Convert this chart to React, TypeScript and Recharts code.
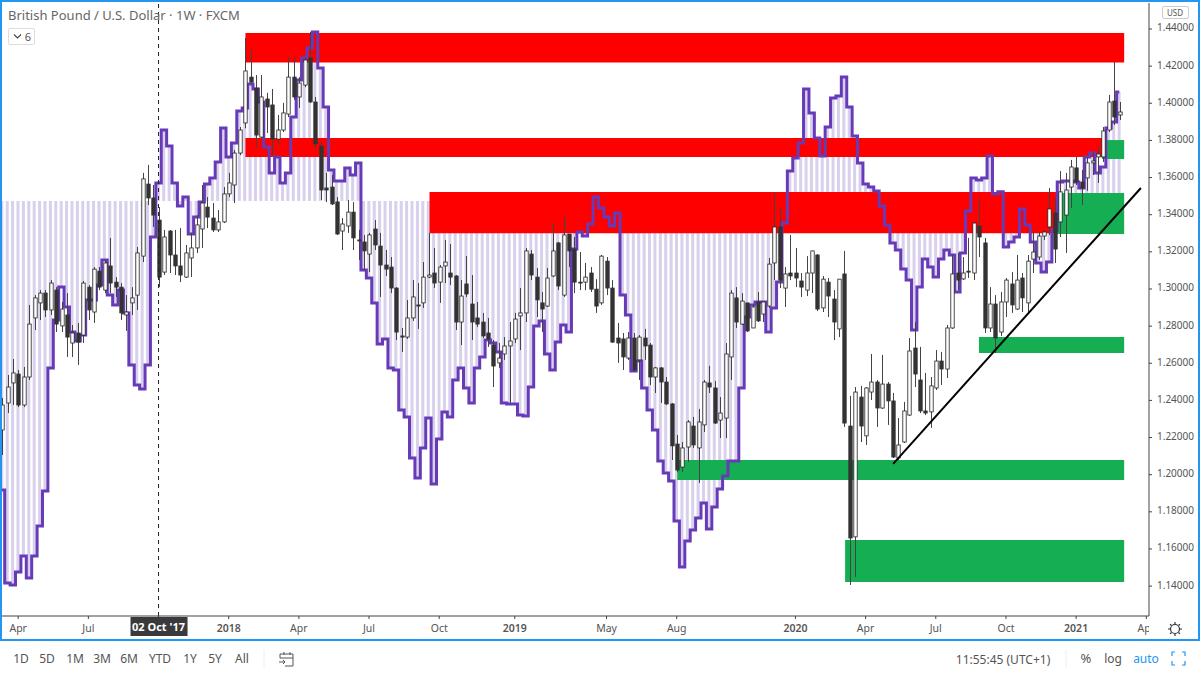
import { Bar, ComposedChart, Line, ReferenceArea, ReferenceLine, XAxis, YAxis } from 'recharts';

const FONT = '"Noto Sans", sans-serif';

// week number, 0 = 02 Oct 2017
const firstWeek = -29;

const opens = [
  1.2241, 1.2386, 1.2494, 1.2542, 1.2375, 1.2526, 1.2844, 1.2925, 1.2978, 1.2887,
  1.2994, 1.2801, 1.2860, 1.2709, 1.2763, 1.2752, 1.3010, 1.2876, 1.3096, 1.2994,
  1.3124, 1.3037, 1.3010, 1.2860, 1.2925, 1.2967, 1.3177, 1.3565, 1.3490,
  1.3371, 1.3091, 1.3312, 1.3183, 1.3124, 1.3064, 1.3167, 1.3221, 1.3323, 1.3441,
  1.3382, 1.3318, 1.3361, 1.3512, 1.3560, 1.3732, 1.3894, 1.4141, 1.4082, 1.3818,
  1.4023, 1.3991, 1.3807, 1.3856, 1.3942, 1.4141, 1.4034, 1.4098, 1.4244, 1.4007,
  1.3770, 1.3544, 1.3549, 1.3469, 1.3312, 1.3339, 1.3414, 1.3264, 1.3253, 1.3188,
  1.3323, 1.3231, 1.3129, 1.3118, 1.3005, 1.2747, 1.2741, 1.2844, 1.2914, 1.2925,
  1.3064, 1.3086, 1.3037, 1.3124, 1.3086, 1.3070, 1.2822, 1.3027, 1.2919, 1.2844,
  1.2822, 1.2763, 1.2698, 1.2602, 1.2650, 1.2693, 1.2731, 1.2855, 1.2871, 1.3188,
  1.3064, 1.2925, 1.2908, 1.3070, 1.3248, 1.2967, 1.3296, 1.3215, 1.3037, 1.3037,
  1.3086, 1.2999, 1.2925, 1.3150, 1.3005, 1.2736, 1.2731, 1.2628, 1.2736, 1.2618,
  1.2736, 1.2698, 1.2526, 1.2575, 1.2499, 1.2381, 1.2165, 1.2041, 1.2149, 1.2262,
  1.2144, 1.2268, 1.2494, 1.2467, 1.2294, 1.2305, 1.2634, 1.2952, 1.2811, 1.2925,
  1.2790, 1.2930, 1.2865, 1.2908, 1.3140, 1.3334, 1.3005, 1.3086, 1.3086, 1.3043,
  1.2994, 1.3086, 1.3183, 1.2898, 1.3037, 1.2946, 1.2785, 1.3081, 1.2262, 1.1665,
  1.2418, 1.2209, 1.2445, 1.2499, 1.2359, 1.2488, 1.2397, 1.2090, 1.2176, 1.2321,
  1.2682, 1.2510, 1.2343, 1.2338, 1.2467, 1.2612, 1.2569, 1.2790, 1.3086, 1.3054,
  1.3096, 1.3086, 1.3339, 1.3248, 1.2790, 1.2919, 1.2768, 1.2930, 1.3027, 1.2892,
  1.3059, 1.2925, 1.3161, 1.3172, 1.3285, 1.3334, 1.3409, 1.3361, 1.3398, 1.3549,
  1.3652, 1.3576, 1.3598, 1.3679, 1.3711, 1.3711, 1.3856, 1.4012, 1.3937,
];
const highs = [
  1.2413, 1.2537, 1.2623, 1.2564, 1.2580, 1.2914, 1.2967, 1.2994, 1.2994, 1.3048,
  1.3010, 1.2930, 1.2978, 1.2806, 1.2817, 1.3043, 1.3021, 1.3118, 1.3118, 1.3156,
  1.3275, 1.3064, 1.3032, 1.2967, 1.3010, 1.3226, 1.3625, 1.3668, 1.3560,
  1.3441, 1.3318, 1.3318, 1.3318, 1.3328, 1.3237, 1.3302, 1.3398, 1.3560, 1.3495,
  1.3463, 1.3425, 1.3549, 1.3625, 1.3748, 1.3872, 1.4352, 1.4287, 1.4152, 1.4152,
  1.4056, 1.4077, 1.3937, 1.4002, 1.4249, 1.4249, 1.4141, 1.4244, 1.4384, 1.4034,
  1.3791, 1.3625, 1.3614, 1.3495, 1.3382, 1.3479, 1.3468, 1.3318, 1.3291, 1.3302,
  1.3371, 1.3302, 1.3210, 1.3172, 1.3010, 1.2790, 1.2941, 1.3048, 1.3032, 1.3145,
  1.3302, 1.3221, 1.3129, 1.3264, 1.3242, 1.3075, 1.3048, 1.3177, 1.3075, 1.2930,
  1.2871, 1.2844, 1.2725, 1.2709, 1.2741, 1.2822, 1.2871, 1.3005, 1.3221, 1.3210,
  1.3113, 1.2984, 1.3113, 1.3355, 1.3253, 1.3387, 1.3296, 1.3280, 1.3199, 1.3140,
  1.3118, 1.3053, 1.3183, 1.3172, 1.3048, 1.2817, 1.2763, 1.2768, 1.2763, 1.2752,
  1.2785, 1.2709, 1.2580, 1.2580, 1.2526, 1.2386, 1.2214, 1.2176, 1.2294, 1.2311,
  1.2354, 1.2510, 1.2586, 1.2505, 1.2418, 1.2709, 1.2994, 1.3010, 1.2978, 1.2925,
  1.2914, 1.2984, 1.2930, 1.3167, 1.3517, 1.3436, 1.3118, 1.3291, 1.3221, 1.3086,
  1.3177, 1.3205, 1.3188, 1.3070, 1.3059, 1.2994, 1.3053, 1.3205, 1.2424, 1.2472,
  1.2478, 1.2472, 1.2650, 1.2510, 1.2645, 1.2499, 1.2440, 1.2305, 1.2392, 1.2736,
  1.2822, 1.2688, 1.2548, 1.2526, 1.2671, 1.2661, 1.2806, 1.3183, 1.3194, 1.3172,
  1.3275, 1.3361, 1.3490, 1.3275, 1.3010, 1.2967, 1.2984, 1.3059, 1.3091, 1.3183,
  1.3086, 1.3183, 1.3307, 1.3307, 1.3318, 1.3544, 1.3490, 1.3635, 1.3625, 1.3695,
  1.3711, 1.3641, 1.3711, 1.3738, 1.3764, 1.3872, 1.4045, 1.4223, 1.4007,
];
const lows = [
  1.2106, 1.2332, 1.2375, 1.2364, 1.2364, 1.2510, 1.2779, 1.2833, 1.2849, 1.2860,
  1.2768, 1.2768, 1.2634, 1.2634, 1.2591, 1.2709, 1.2833, 1.2817, 1.2994, 1.2978,
  1.2978, 1.2957, 1.2833, 1.2774, 1.2860, 1.2887, 1.3145, 1.3452, 1.3334,
  1.3010, 1.3075, 1.3086, 1.3075, 1.3037, 1.3059, 1.3064, 1.3194, 1.3221, 1.3328,
  1.3307, 1.3307, 1.3355, 1.3495, 1.3463, 1.3721, 1.3866, 1.4109, 1.3764, 1.3813,
  1.3840, 1.3721, 1.3775, 1.3845, 1.3926, 1.4018, 1.3975, 1.4087, 1.4002, 1.3759,
  1.3479, 1.3468, 1.3452, 1.3291, 1.3210, 1.3302, 1.3210, 1.3156, 1.3102, 1.3091,
  1.3210, 1.2957, 1.3070, 1.2978, 1.2725, 1.2661, 1.2731, 1.2828, 1.2785, 1.2898,
  1.3059, 1.3005, 1.2925, 1.3032, 1.3021, 1.2779, 1.2698, 1.2957, 1.2725, 1.2795,
  1.2736, 1.2688, 1.2472, 1.2575, 1.2618, 1.2386, 1.2709, 1.2671, 1.2822, 1.3048,
  1.2849, 1.2768, 1.2903, 1.3064, 1.2994, 1.2957, 1.3118, 1.2978, 1.2994, 1.2994,
  1.2984, 1.2871, 1.2914, 1.2967, 1.2709, 1.2602, 1.2564, 1.2618, 1.2553, 1.2510,
  1.2618, 1.2483, 1.2440, 1.2386, 1.2375, 1.2079, 1.2014, 1.2014, 1.2068, 1.2144,
  1.1955, 1.2230, 1.2440, 1.2273, 1.2197, 1.2197, 1.2510, 1.2790, 1.2806, 1.2768,
  1.2790, 1.2822, 1.2822, 1.2898, 1.3048, 1.3005, 1.2903, 1.3048, 1.3010, 1.2957,
  1.2962, 1.2978, 1.2881, 1.2876, 1.2849, 1.2725, 1.2741, 1.2257, 1.1406, 1.1449,
  1.2176, 1.2160, 1.2402, 1.2257, 1.2354, 1.2268, 1.2090, 1.2079, 1.2171, 1.2316,
  1.2472, 1.2332, 1.2321, 1.2252, 1.2456, 1.2483, 1.2521, 1.2785, 1.2994, 1.3048,
  1.3059, 1.3048, 1.3172, 1.2763, 1.2768, 1.2655, 1.2747, 1.2849, 1.2871, 1.2887,
  1.2876, 1.2871, 1.3086, 1.3156, 1.3264, 1.3291, 1.3140, 1.3280, 1.3194, 1.3436,
  1.3560, 1.3452, 1.3528, 1.3614, 1.3571, 1.3684, 1.3845, 1.3883, 1.3910,
];
const closes = [
  1.2375, 1.2472, 1.2548, 1.2375, 1.2526, 1.2811, 1.2952, 1.2978, 1.2887, 1.3032,
  1.2811, 1.2892, 1.2741, 1.2763, 1.2714, 1.3032, 1.2887, 1.3107, 1.3010, 1.3140,
  1.3032, 1.3010, 1.2871, 1.2876, 1.2952, 1.3194, 1.3593, 1.3490, 1.3398,
  1.3064, 1.3280, 1.3183, 1.3124, 1.3075, 1.3194, 1.3221, 1.3345, 1.3463, 1.3387,
  1.3318, 1.3361, 1.3512, 1.3571, 1.3732, 1.3856, 1.4174, 1.4114, 1.3829, 1.4034,
  1.3980, 1.3807, 1.3856, 1.3948, 1.4141, 1.4034, 1.4109, 1.4233, 1.4007, 1.3781,
  1.3533, 1.3533, 1.3458, 1.3296, 1.3350, 1.3414, 1.3275, 1.3259, 1.3205, 1.3291,
  1.3237, 1.3129, 1.3107, 1.3005, 1.2768, 1.2741, 1.2844, 1.2957, 1.2908, 1.3064,
  1.3075, 1.3032, 1.3118, 1.3145, 1.3064, 1.2822, 1.2962, 1.2973, 1.2822, 1.2811,
  1.2747, 1.2731, 1.2585, 1.2628, 1.2693, 1.2720, 1.2838, 1.2871, 1.3205, 1.3075,
  1.2941, 1.2892, 1.3059, 1.3205, 1.3016, 1.3291, 1.3205, 1.3037, 1.3032, 1.3064,
  1.2999, 1.2908, 1.3177, 1.3005, 1.2714, 1.2709, 1.2634, 1.2736, 1.2564, 1.2741,
  1.2693, 1.2526, 1.2575, 1.2499, 1.2381, 1.2155, 1.2025, 1.2144, 1.2284, 1.2160,
  1.2284, 1.2499, 1.2472, 1.2278, 1.2332, 1.2650, 1.2978, 1.2822, 1.2935, 1.2774,
  1.2903, 1.2828, 1.2930, 1.3134, 1.3334, 1.3048, 1.3081, 1.3070, 1.3059, 1.3010,
  1.3086, 1.3205, 1.2892, 1.3053, 1.2962, 1.2822, 1.3053, 1.2278, 1.1659, 1.2445,
  1.2262, 1.2467, 1.2499, 1.2359, 1.2488, 1.2397, 1.2095, 1.2160, 1.2343, 1.2666,
  1.2542, 1.2343, 1.2332, 1.2478, 1.2612, 1.2569, 1.2790, 1.3081, 1.3048, 1.3086,
  1.3091, 1.3355, 1.3280, 1.2790, 1.2919, 1.2736, 1.2930, 1.3048, 1.2914, 1.3048,
  1.2952, 1.3150, 1.3199, 1.3285, 1.3307, 1.3431, 1.3215, 1.3523, 1.3533, 1.3657,
  1.3576, 1.3544, 1.3679, 1.3689, 1.3727, 1.3851, 1.4007, 1.3926, 1.3953,
];
const indicator = [
  1.1917, 1.1417, 1.1406, 1.1476, 1.1562, 1.1443, 1.1562, 1.1724, 1.1912, 1.2574,
  1.2833, 1.3010, 1.2903, 1.2768, 1.2720, 1.2752, 1.2941, 1.2941, 1.3021, 1.3156,
  1.2967, 1.2914, 1.2994, 1.2871, 1.2591, 1.2483, 1.2461, 1.2591, 1.3280,
  1.3571, 1.3856, 1.3770, 1.3571, 1.3447, 1.3495, 1.3296, 1.3387, 1.3468, 1.3565,
  1.3598, 1.3684, 1.3867, 1.3711, 1.3786, 1.3958, 1.3975, 1.4104, 1.4077, 1.4007,
  1.3764, 1.3625, 1.3711, 1.3571, 1.3625, 1.3926, 1.4125, 1.4244, 1.4298, 1.4384,
  1.4190, 1.3980, 1.3641, 1.3582, 1.3582, 1.3652, 1.3614, 1.3679, 1.3102, 1.3059,
  1.2925, 1.2704, 1.2731, 1.2575, 1.2564, 1.2348, 1.2311, 1.2090, 1.1982, 1.2144,
  1.2305, 1.1950, 1.2192, 1.2337, 1.2311, 1.2510, 1.2575, 1.2467, 1.2386, 1.2575,
  1.2634, 1.2725, 1.2709, 1.2661, 1.2386, 1.2381, 1.2381, 1.2321, 1.2316, 1.2472,
  1.2801, 1.2828, 1.2650, 1.2564, 1.2714, 1.2806, 1.2768, 1.3215, 1.3307, 1.3285,
  1.3350, 1.3495, 1.3436, 1.3387, 1.3339, 1.3409, 1.2967, 1.2860, 1.2558, 1.2612,
  1.2467, 1.2348, 1.2241, 1.2074, 1.2009, 1.1966, 1.1751, 1.1503, 1.1643, 1.1702,
  1.1767, 1.1848, 1.1708, 1.1826, 1.1923, 1.1993, 1.2074, 1.2074, 1.2467, 1.2849,
  1.2914, 1.2930, 1.2930, 1.2768, 1.2898, 1.3037, 1.3355, 1.3635, 1.3705, 1.3786,
  1.4077, 1.3948, 1.3813, 1.3716, 1.3872, 1.4029, 1.4039, 1.4141, 1.3980, 1.3824,
  1.3679, 1.3565, 1.3549, 1.3528, 1.3447, 1.3345, 1.3248, 1.3210, 1.3107, 1.3048,
  1.2779, 1.3010, 1.3161, 1.3118, 1.3064, 1.3161, 1.3210, 1.3183, 1.2984, 1.3194,
  1.3420, 1.3598, 1.3587, 1.3598, 1.3716, 1.3512, 1.3523, 1.3226, 1.3253, 1.3280,
  1.3431, 1.3345, 1.3253, 1.3140, 1.3091, 1.3145, 1.3318, 1.3576, 1.3582, 1.3582,
  1.3576, 1.3544, 1.3711, 1.3732, 1.3625, 1.3657, 1.3867, 1.3899, 1.4061,
];
const indicatorBase = 1.3474;

const priceTicks = [1.14, 1.16, 1.18, 1.2, 1.22, 1.24, 1.26, 1.28, 1.3, 1.32, 1.34, 1.36, 1.38, 1.4, 1.42, 1.44];
const timeTicks = [-26, -13, 0, 13, 26, 39, 52, 66, 83, 96, 118, 131, 144, 157, 170, 183];
const timeLabels = ['Apr', 'Jul', "02 Oct '17", '2018', 'Apr', 'Jul', 'Oct', '2019', 'May', 'Aug', '2020', 'Apr', 'Jul', 'Oct', '2021', 'Apr'];
const rangeButtons = [['1D', 21], ['5D', 47], ['1M', 75], ['3M', 102], ['6M', 129], ['YTD', 160], ['1Y', 190], ['5Y', 215], ['All', 242]];

// [from week, to week, top price, bottom price]
const redZones = [
  [16.1, 178.9, 1.4378, 1.422],
  [16.1, 174.8, 1.3813, 1.3711],
  [50.2, 166.3, 1.3522, 1.33],
];
const greenZones = [
  [174.8, 178.9, 1.3802, 1.37],
  [166.3, 178.9, 1.3517, 1.3296],
  [152, 178.9, 1.2741, 1.2655],
  [96.1, 178.9, 1.2079, 1.1971],
  [127.2, 178.9, 1.1648, 1.1422],
];
const trendFrom = { x: 136.1, y: 1.2058 };
const trendTo = { x: 182, y: 1.3544 };

const rows = opens.map((open, n) => ({
  week: firstWeek + n,
  open,
  high: highs[n],
  low: lows[n],
  close: closes[n],
  wick: [lows[n], highs[n]],
  indicator: indicator[n],
  hatch: [Math.min(indicatorBase, indicator[n]), Math.max(indicatorBase, indicator[n])],
}));

const Candle = (props: any) => {
  const { x, y, width, height, payload } = props;
  const perPrice = height / (payload.high - payload.low || 1);
  const yOpen = y + (payload.high - payload.open) * perPrice;
  const yClose = y + (payload.high - payload.close) * perPrice;
  const up = payload.close >= payload.open;
  const mid = Math.round(x + width / 2) + 0.5;
  return (
    <g>
      <line x1={mid} x2={mid} y1={y} y2={y + height} stroke="#444" strokeWidth={1} />
      <rect
        x={mid - 1.7}
        y={Math.min(yOpen, yClose)}
        width={3.4}
        height={Math.max(Math.abs(yOpen - yClose), 1)}
        fill={up ? '#fff' : '#333'}
        stroke={up ? '#222' : '#333'}
        strokeWidth={0.8}
      />
    </g>
  );
};

const PriceTick = (props: any) => {
  const { x, y, payload } = props;
  return (
    <text x={x} y={y + 2.5} fontSize={10} fill="#555" fontFamily={FONT}>
      {payload.value.toFixed(5)}
    </text>
  );
};

const TimeTick = (props: any) => {
  const { x, payload } = props;
  const label = timeLabels[timeTicks.indexOf(payload.value)];
  if (payload.value === 0) {
    return (
      <g>
        <rect x={x - 28} y={617} width={57} height={19} fill="#3a3a3c" />
        <text x={x} y={631} textAnchor="middle" fontSize={11} fontWeight={700} fill="#fff" fontFamily={FONT}>
          {label}
        </text>
      </g>
    );
  }
  const isYear = /^\d+$/.test(label);
  const text = (
    <text x={x} y={632} textAnchor="middle" fontSize={10.5} fontWeight={isYear ? 600 : 400} fill="#555" fontFamily={FONT}>
      {label}
    </text>
  );
  if (payload.value === 183) {
    return (
      <g>
        <clipPath id="lastTick">
          <rect x={x - 12} y={617} width={1149 - x + 12} height={20} />
        </clipPath>
        <g clipPath="url(#lastTick)">{text}</g>
      </g>
    );
  }
  return text;
};

const Label = ({ x, y, children, color = '#555', size = 12, anchor = 'center' }: any) => (
  <div
    style={{
      position: 'absolute',
      left: x,
      top: y,
      transform: anchor === 'center' ? 'translate(-50%, -50%)' : 'translateY(-50%)',
      fontSize: size,
      color,
      whiteSpace: 'nowrap',
      fontFamily: FONT,
    }}
  >
    {children}
  </div>
);

export default function App() {
  return (
    <div style={{ position: 'absolute', left: 0, top: 0, width: 1200, height: 675, background: '#fff', overflow: 'hidden' }}>
      <ComposedChart
        width={1200}
        height={640}
        data={rows}
        margin={{ top: 3, right: 2, bottom: 0, left: 2 }}
        style={{ position: 'absolute', left: 0, top: 0 }}
      >
        <XAxis
          dataKey="week"
          type="number"
          domain={[-29, 183.5]}
          ticks={timeTicks}
          interval={0}
          height={24}
          tick={<TimeTick />}
          tickSize={3}
          stroke="#444"
        />
        <XAxis dataKey="week" xAxisId="hatch" type="number" domain={[-29, 183.5]} hide />
        <YAxis
          orientation="right"
          width={49}
          domain={[1.1239, 1.454]}
          ticks={priceTicks}
          interval={0}
          tick={<PriceTick />}
          tickSize={3}
          tickMargin={5}
          stroke="#444"
        />
        <Bar dataKey="hatch" xAxisId="hatch" barSize={3} fill="#d8d0ec" isAnimationActive={false} zIndex={50} />
        {redZones.map((z, n) => (
          <ReferenceArea key={`red-${n}`} x1={z[0]} x2={z[1]} y1={z[3]} y2={z[2]} fill="#ff0000" fillOpacity={1} stroke="none" />
        ))}
        {greenZones.map((z, n) => (
          <ReferenceArea key={`green-${n}`} x1={z[0]} x2={z[1]} y1={z[3]} y2={z[2]} fill="#15ae52" fillOpacity={1} stroke="none" />
        ))}
        <Line dataKey="indicator" type="step" stroke="#673ab7" strokeWidth={3} dot={false} isAnimationActive={false} zIndex={250} />
        <Bar dataKey="wick" barSize={4} shape={<Candle />} isAnimationActive={false} />
        <ReferenceLine
          segment={[trendFrom, trendTo]}
          stroke="#000"
          strokeWidth={2}
          ifOverflow="visible"
        />
        <ReferenceLine x={0} stroke="#222" strokeDasharray="4 4" />
      </ComposedChart>

      {/* frame and toolbar */}
      <div style={{ position: 'absolute', left: 0, top: 0, width: 1200, height: 641, boxSizing: 'border-box', border: '2px solid #2196f3', pointerEvents: 'none' }} />
      <Label x={8} y={15} size={13} color="#666" anchor="left">British Pound / U.S. Dollar · 1W · FXCM</Label>
      <div style={{ position: 'absolute', left: 8, top: 28, width: 27, height: 17, boxSizing: 'border-box', border: '1px solid #ddd', borderRadius: 2 }} />
      <Label x={28} y={36} size={11} color="#555">6</Label>
      <div style={{ position: 'absolute', left: 1162, top: 6, width: 27, height: 13, boxSizing: 'border-box', border: '1px solid #ccc', borderRadius: 2 }} />
      <Label x={1175} y={12} size={8} color="#555">USD</Label>
      <svg width={1200} height={675} style={{ position: 'absolute', left: 0, top: 0, pointerEvents: 'none' }}>
        <path d="M14 34.5 l3.5 3.5 l3.5 -3.5" fill="none" stroke="#444" strokeWidth={1.1} />
        <circle cx={1175} cy={629} r={4.5} fill="none" stroke="#333" strokeWidth={1.2} />
        {[0, 45, 90, 135, 180, 225, 270, 315].map((a) => (
          <line
            key={a}
            x1={1175 + 5 * Math.cos((a * Math.PI) / 180)}
            y1={629 + 5 * Math.sin((a * Math.PI) / 180)}
            x2={1175 + 7 * Math.cos((a * Math.PI) / 180)}
            y2={629 + 7 * Math.sin((a * Math.PI) / 180)}
            stroke="#333"
            strokeWidth={1.2}
          />
        ))}
        <line x1={264} x2={264} y1={650} y2={668} stroke="#eee" />
        <line x1={1066} x2={1066} y1={650} y2={668} stroke="#eee" />
        <path d="M280 654 h13 v12 h-8 M280 654 v4 M280 658 h13 M284 652 v3 M290 652 v3 M279 662 h6 m-2 -2 l2 2 l-2 2" fill="none" stroke="#555" strokeWidth={1} />
        <path d="M1175 652 h-3 v4 M1182 652 h3 v4 M1175 665 h-3 v-4 M1182 665 h3 v-4" fill="none" stroke="#2196f3" strokeWidth={1.2} />
      </svg>
      {rangeButtons.map(([text, x]) => (
        <Label key={text as string} x={x} y={658}>{text}</Label>
      ))}
      <Label x={1003} y={659}>11:55:45 (UTC+1)</Label>
      <Label x={1086} y={658} size={13}>%</Label>
      <Label x={1113} y={658}>log</Label>
      <Label x={1146} y={658} color="#2196f3">auto</Label>
    </div>
  );
}
